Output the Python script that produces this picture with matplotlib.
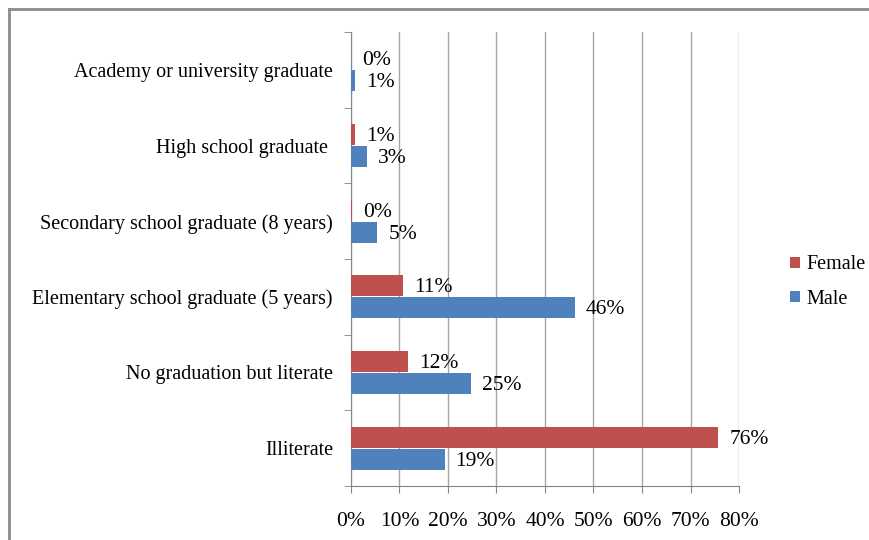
import matplotlib.pyplot as plt
import numpy as np
from matplotlib.lines import Line2D

plt.rcParams['font.family'] = ['Liberation Serif', 'DejaVu Serif']

categories = ["Illiterate", "No graduation but literate",
              "Elementary school graduate (5 years)",
              "Secondary school graduate (8 years)",
              "High school graduate ",
              "Academy or university graduate"]
female = [75.7, 11.8, 10.8, 0.3, 0.8, 0.0]
male = [19.3, 24.8, 46.2, 5.4, 3.2, 0.8]
xticks = [0, 10, 20, 30, 40, 50, 60, 70, 80]

red = '#C0504D'
blue = '#4F81BD'
grid_col = '#A6A6A6'
fs_cat = 14.5
fs_num = 15.5

fig = plt.figure(figsize=(8.7, 5.4), dpi=100)
ax = fig.add_axes([351 / 870, 1 - 486 / 540, (739 - 351) / 870, (486 - 32) / 540])

y = np.arange(len(categories))
off = 0.145
h = 0.28
ax.barh(y + off, female, height=h, color=red, label='Female', zorder=3)
ax.barh(y - off, male, height=h, color=blue, label='Male', zorder=3)

for yi, v in zip(y, female):
    ax.annotate(f"{round(v)}%", (v, yi + off), xytext=(11, -2), textcoords='offset pixels',
                ha='left', va='center', fontsize=fs_num, zorder=4)
for yi, v in zip(y, male):
    ax.annotate(f"{round(v)}%", (v, yi - off), xytext=(11, -2), textcoords='offset pixels',
                ha='left', va='center', fontsize=fs_num, zorder=4)

ax.set_xlim(0, 80)
ax.set_ylim(-0.5, len(categories) - 0.5)
ax.set_xticks(xticks)
ax.set_xticklabels([f"{t}%" for t in xticks], fontsize=fs_num)
ax.set_yticks(y)
ax.set_yticklabels(categories, fontsize=fs_cat)
ax.set_yticks(np.arange(len(categories) + 1) - 0.5, minor=True)
ax.tick_params(axis='y', which='major', length=0, pad=13)
ax.tick_params(axis='y', which='minor', length=5, color='#868686', direction='out')
ax.tick_params(axis='x', length=5, color='#868686', direction='out', pad=14)

ax.grid(axis='x', color=grid_col, linewidth=1, zorder=0)
for s in ['top', 'right']:
    ax.spines[s].set_visible(False)
ax.spines['left'].set_color('#868686')
ax.spines['bottom'].set_color('#868686')

handles, labels = ax.get_legend_handles_labels()
fig.legend(handles, labels, loc='center left', bbox_to_anchor=(772 / 870, 1 - 282 / 540),
           frameon=False, fontsize=fs_cat, handlelength=0.5, handleheight=0.5,
           handletextpad=0.3, labelspacing=0.75)

# outer chart border (cropped chart area)
fig.add_artist(Line2D([9 / 870, 9 / 870], [0, 1 - 9 / 540], transform=fig.transFigure,
                      color='#8C8C8C', linewidth=2))
fig.add_artist(Line2D([9 / 870, 1], [1 - 9 / 540, 1 - 9 / 540], transform=fig.transFigure,
                      color='#8C8C8C', linewidth=2))

fig.savefig('out.png', dpi=100)
